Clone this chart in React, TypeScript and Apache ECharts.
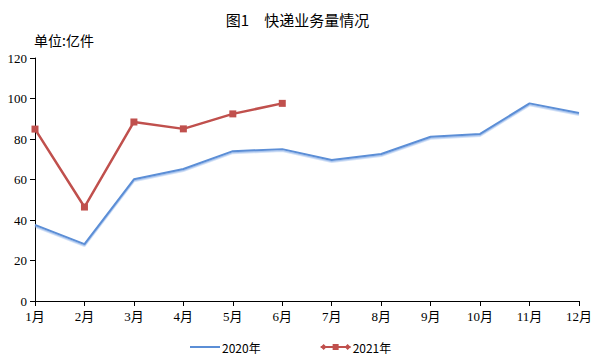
import React, { useEffect, useRef } from "react";
import * as echarts from "echarts";

const months = ["1月", "2月", "3月", "4月", "5月", "6月", "7月", "8月", "9月", "10月", "11月", "12月"];
const series2020 = [37.6, 28.1, 60.1, 65.2, 74.0, 75.0, 69.6, 72.6, 81.1, 82.5, 97.6, 92.8];
const series2021 = [84.9, 46.4, 88.4, 85.0, 92.4, 97.6];
const yTicks = { min: 0, max: 120, interval: 20 };

const serifFont = "'Liberation Serif', 'Noto Sans CJK SC', serif";
const cjkFont = "'Noto Sans CJK SC', sans-serif";

const icon2020 = "path://M0,4H30V6H0Z";
const icon2021 = "path://M0,4H30V6H0Z M0,5L3,2L6,5L3,8Z M24,5L27,2L30,5L27,8Z M12,2H18V8H12Z";

export default function App() {
  const ref = useRef<HTMLDivElement>(null);
  useEffect(() => {
    if (!ref.current) return;
    const chart = echarts.init(ref.current, undefined, { renderer: "svg" });
    chart.setOption({
      animation: false,
      backgroundColor: "#ffffff",
      title: {
        text: "图1　快递业务量情况",
        left: "center",
        top: 7,
        textStyle: { fontFamily: cjkFont, fontSize: 15, fontWeight: "normal", color: "#000" },
      },
      graphic: [
        {
          type: "text",
          left: 34,
          top: 33,
          style: { text: "单位:亿件", fontFamily: cjkFont, fontSize: 14, fill: "#000" },
        },
      ],
      legend: {
        left: 185,
        top: 336,
        itemGap: 60,
        itemWidth: 30,
        itemHeight: 10,
        textStyle: { fontFamily: cjkFont, fontSize: 12, color: "#000", padding: [0, 0, 0, -3] },
        data: [
          { name: "2020年", icon: icon2020 },
          { name: "2021年", icon: icon2021 },
        ],
      },
      grid: { left: 35, right: 16, top: 58, bottom: 53 },
      xAxis: {
        type: "category",
        data: months,
        boundaryGap: false,
        axisLine: { lineStyle: { color: "#000", width: 1 } },
        axisTick: { show: true, inside: false, length: 5, lineStyle: { color: "#000" } },
        axisLabel: { fontFamily: serifFont, fontSize: 13, color: "#000", margin: 9 },
      },
      yAxis: {
        type: "value",
        min: yTicks.min,
        max: yTicks.max,
        interval: yTicks.interval,
        splitLine: { show: false },
        axisLine: { show: true, lineStyle: { color: "#000", width: 1 } },
        axisTick: { show: true, length: 5, lineStyle: { color: "#000" } },
        axisLabel: { fontFamily: serifFont, fontSize: 13, color: "#000", margin: 8 },
      },
      series: [
        {
          name: "2020年",
          type: "line",
          data: series2020,
          symbol: "none",
          color: "#5b8ed6",
          lineStyle: { width: 2, color: "#5b8ed6", shadowColor: "rgba(130,170,230,0.7)", shadowOffsetY: 1.5, shadowBlur: 1 },
        },
        {
          name: "2021年",
          type: "line",
          data: series2021,
          symbol: "rect",
          symbolSize: 7,
          color: "#c0504d",
          itemStyle: { color: "#c0504d" },
          lineStyle: { width: 2.5, color: "#c0504d" },
        },
      ],
    });
    return () => chart.dispose();
  }, []);
  return <div ref={ref} style={{ position: "fixed", left: 0, top: 0, width: 595, height: 354 }} />;
}
